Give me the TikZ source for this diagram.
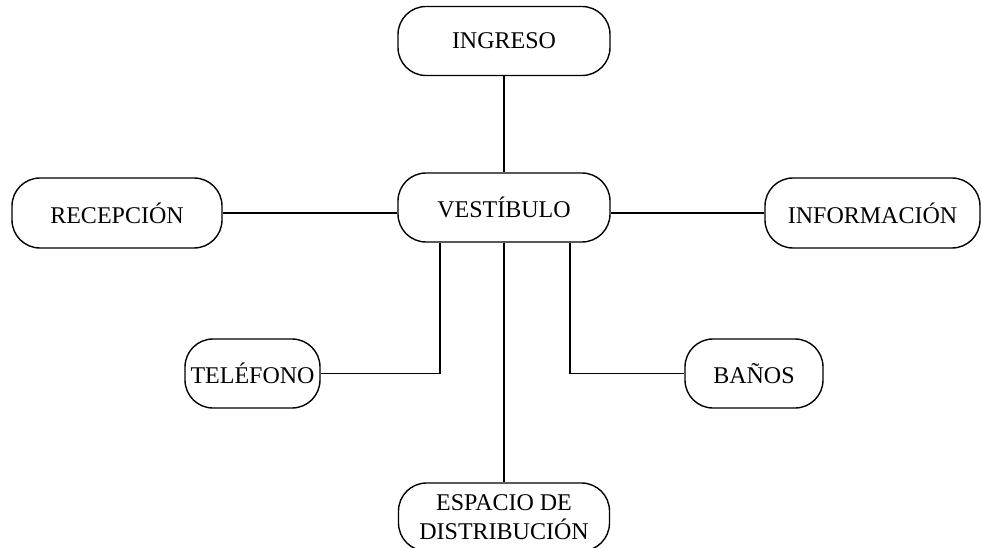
\documentclass[tikz,border=0pt]{standalone}
\usepackage{fontspec}
\setmainfont{Liberation Serif}
\begin{document}
\begin{tikzpicture}[x=1pt,y=-1pt,
  box/.style={draw, line width=1.4pt, rounded corners=28pt, inner sep=0pt,
    align=center, font=\fontsize{24}{28.5}\selectfont},
  link/.style={line width=1.4pt}]
\clip (0,0) rectangle (982,548);
\useasboundingbox (0,0) rectangle (982,548);
\node[box, minimum width=212pt, minimum height=69pt] (ing) at (504,41) {INGRESO};
\node[box, minimum width=212pt, minimum height=69pt] (ves) at (504,207.5) {VESTÍBULO};
\node[box, minimum width=210pt, minimum height=70pt] (rec) at (117,213) {RECEPCIÓN};
\node[box, minimum width=215pt, minimum height=70pt] (inf) at (872.5,213) {INFORMACIÓN};
\node[box, minimum width=135pt, minimum height=69pt] (tel) at (252.5,373.5) {TELÉFONO};
\node[box, minimum width=138pt, minimum height=69pt] (ban) at (754,373.5) {BAÑOS};
\node[box, minimum width=211pt, minimum height=68pt] (esp) at (504,517) {ESPACIO DE\\DISTRIBUCIÓN};
\draw[link] (ing.south) -- (ves.north);
\draw[link] (rec.east) -- (rec.east -| ves.west);
\draw[link] (inf.west) -- (inf.west -| ves.east);
\draw[link] (ves.south) -- (esp.north);
\draw[link] (tel.east) -| ([xshift=-64pt]ves.south);
\draw[link] (ban.west) -| ([xshift=66pt]ves.south);
\end{tikzpicture}
\end{document}
